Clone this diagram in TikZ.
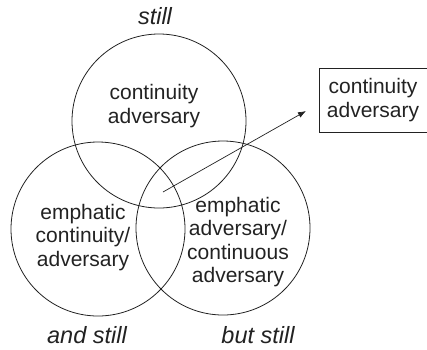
\documentclass[tikz,border=0pt]{standalone}
\usepackage{fontspec}
\setmainfont{Liberation Sans}
\usetikzlibrary{arrows.meta}
\definecolor{ink}{HTML}{222222}
\begin{document}
\begin{tikzpicture}[x=1pt,y=-1pt,
  ring/.style={draw=ink,line width=0.8pt},
  body/.style={text=ink,align=center,inner sep=0pt,font=\fontsize{21}{23.5}\selectfont},
  tag/.style={text=ink,anchor=base,inner sep=0pt,font=\fontsize{23.5}{26}\selectfont\itshape},
  frame/.style={draw=ink,line width=0.8pt,minimum width=108pt,minimum height=64pt,inner sep=0pt},
  pointer/.style={draw=ink,line width=0.7pt,-{Latex[length=8pt,width=6pt]}}]
  \useasboundingbox (0,0) rectangle (427,349);
  % three overlapping circles
  \draw[ring] (159,121) circle[radius=87];
  \draw[ring] (98,229) circle[radius=87];
  \draw[ring] (223,228) circle[radius=87];
  % texts inside the circles
  \node[body] (top) at (154,106) {continuity\\adversary};
  \node[body] (left) at (83,237.5) {emphatic\\continuity/\\adversary};
  \node[body] (right) at (238,242) {emphatic\\adversary/\\continuous\\adversary};
  % labels outside
  \node[tag] (still) at (155,24) {still};
  \node[tag] (andstill) at (87,343) {and still};
  \node[tag] (butstill) at (258,343) {but still};
  % framed box on the right
  \node[frame,body] (box) at (373,100) {continuity\\adversary};
  % arrow from the centre region towards the box
  \coordinate (src) at (163,192);
  \coordinate (dst) at (306,111);
  \draw[pointer] (src) -- (dst);
\end{tikzpicture}
\end{document}
